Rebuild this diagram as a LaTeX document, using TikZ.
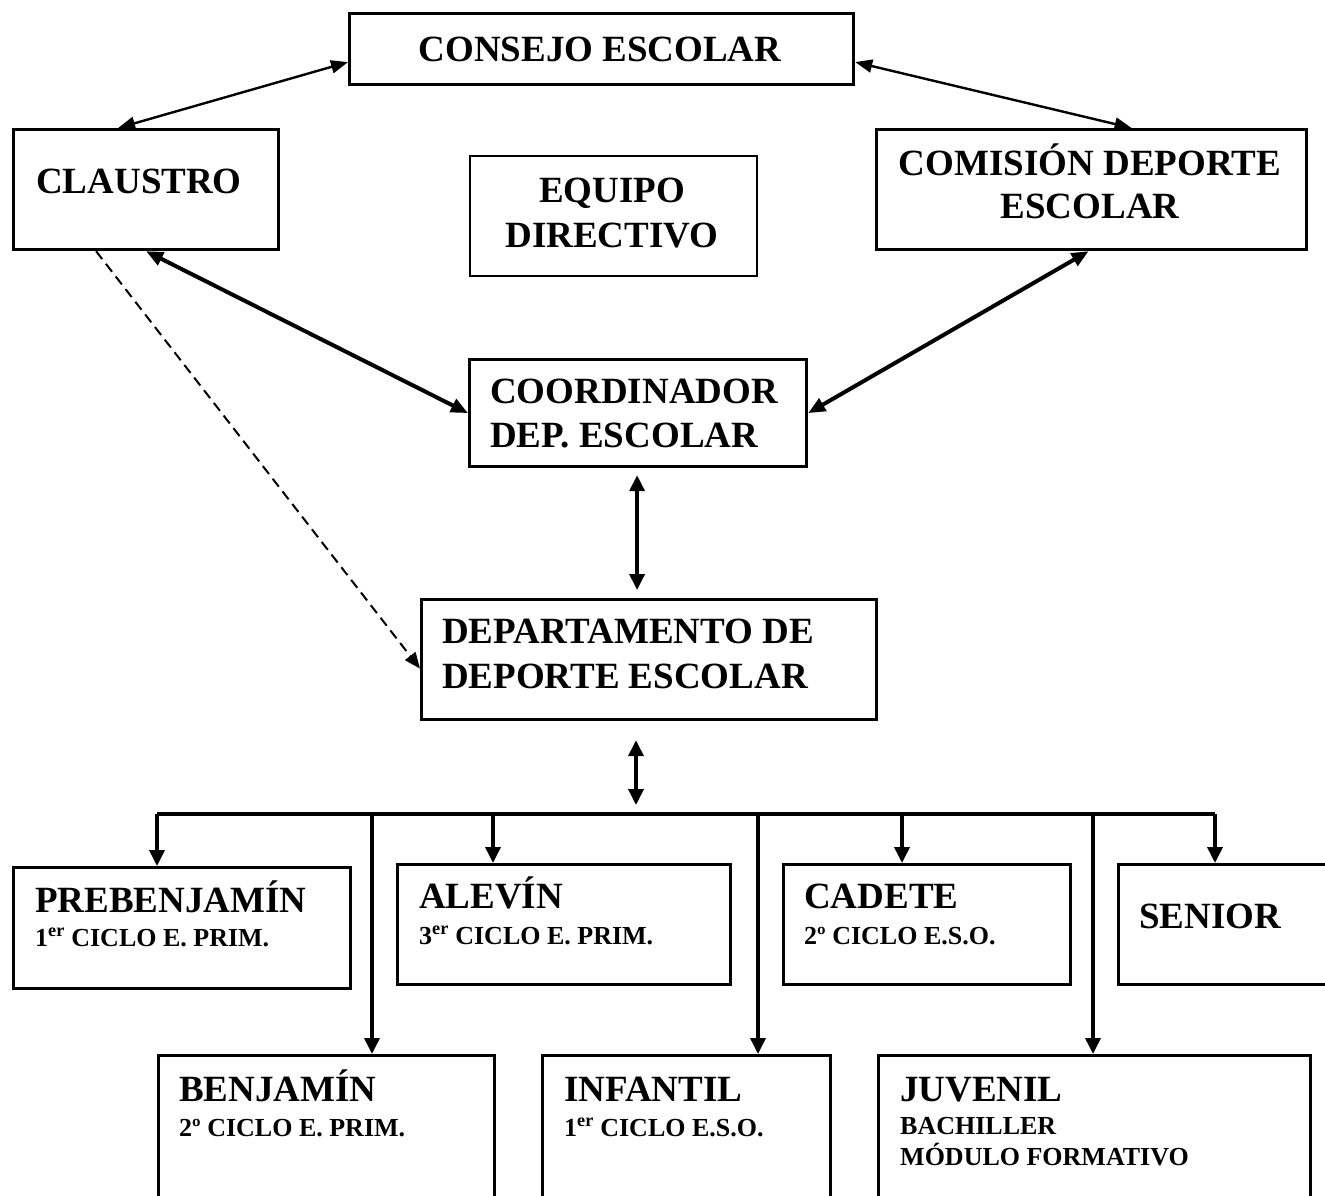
\documentclass[tikz,border=0pt]{standalone}
\usepackage{fontspec}
\setmainfont{Liberation Serif}
\usetikzlibrary{arrows.meta}
\begin{document}
\begin{tikzpicture}[x=1pt,y=-1pt,
  box/.style={draw, line width=3.2pt, inner sep=0pt, anchor=north west},
  thinbox/.style={draw, line width=1.6pt, inner sep=0pt, anchor=north west},
  bigtxt/.style={font=\fontsize{37}{44}\selectfont\bfseries, inner sep=0pt},
  subtxt/.style={font=\fontsize{26}{31}\selectfont\bfseries, inner sep=0pt},
  arrthin/.style={line width=2.4pt, {Triangle[length=17pt,width=13pt]}-{Triangle[length=17pt,width=13pt]}},
  arrthick/.style={line width=4pt, {Triangle[length=17pt,width=14pt]}-{Triangle[length=17pt,width=14pt]}},
  arrvert/.style={line width=3.6pt, {Triangle[length=16pt,width=15pt]}-{Triangle[length=16pt,width=15pt]}},
  drop/.style={line width=3.6pt, -{Triangle[length=16pt,width=15pt]}},
  dashconn/.style={line width=2pt, dash pattern=on 10pt off 6pt, -{Triangle[length=16pt,width=13pt]}}
]
\useasboundingbox (0,0) rectangle (1325,1195);
\fill[white] (0,0) rectangle (1325,1195);
\clip (0,0) rectangle (1325,1195);

% boxes
\node[box, minimum width=504pt, minimum height=71pt] (consejo) at (348,12) {};
\node[box, minimum width=265pt, minimum height=120pt] (claustro) at (12,128) {};
\node[thinbox, minimum width=287pt, minimum height=120pt] (equipo) at (469,155) {};
\node[box, minimum width=430pt, minimum height=120pt] (comision) at (875,128) {};
\node[box, minimum width=337pt, minimum height=107pt] (coord) at (468,358) {};
\node[box, minimum width=455pt, minimum height=120pt] (dep) at (420,598) {};
\node[box, minimum width=337pt, minimum height=121pt] (preb) at (12,866) {};
\node[box, minimum width=333pt, minimum height=120pt] (alevin) at (396,863) {};
\node[box, minimum width=287pt, minimum height=120pt] (cadete) at (782,863) {};
\node[box, minimum width=260pt, minimum height=120pt] (senior) at (1117,863) {};
\node[box, minimum width=336pt, minimum height=200pt] (benj) at (157,1054) {};
\node[box, minimum width=288pt, minimum height=200pt] (infantil) at (541,1054) {};
\node[box, minimum width=432pt, minimum height=200pt] (juvenil) at (877,1054) {};

% texts
\node[bigtxt, anchor=base] (tconsejo) at (600,61) {CONSEJO ESCOLAR};
\node[bigtxt, anchor=base] (tclaustro) at (139,193) {CLAUSTRO};
\node[bigtxt, anchor=base] (tequipo1) at (612,202) {EQUIPO};
\node[bigtxt, anchor=base] (tequipo2) at (612,247) {DIRECTIVO};
\node[bigtxt, anchor=base] (tcomision1) at (1090,175) {COMISIÓN DEPORTE};
\node[bigtxt, anchor=base] (tcomision2) at (1090,218) {ESCOLAR};
\node[bigtxt, anchor=base west] (tcoord1) at (490,403) {COORDINADOR};
\node[bigtxt, anchor=base west] (tcoord2) at (490,447) {DEP. ESCOLAR};
\node[bigtxt, anchor=base west] (tdep1) at (442,643) {DEPARTAMENTO DE};
\node[bigtxt, anchor=base west] (tdep2) at (442,688) {DEPORTE ESCOLAR};
\node[bigtxt, anchor=base west] (tpreb) at (35,912) {PREBENJAMÍN};
\node[subtxt, anchor=base west] (tpreb2) at (35,946) {1\textsuperscript{er} CICLO E. PRIM.};
\node[bigtxt, anchor=base west] (talevin) at (419,908) {ALEVÍN};
\node[subtxt, anchor=base west] (talevin2) at (419,944) {3\textsuperscript{er} CICLO E. PRIM.};
\node[bigtxt, anchor=base west] (tcadete) at (804,908) {CADETE};
\node[subtxt, anchor=base west] (tcadete2) at (804,944) {2º CICLO E.S.O.};
\node[bigtxt, anchor=base west] (tsenior) at (1139,928) {SENIOR};
\node[bigtxt, anchor=base west] (tbenj) at (179,1101) {BENJAMÍN};
\node[subtxt, anchor=base west] (tbenj2) at (179,1136) {2º CICLO E. PRIM.};
\node[bigtxt, anchor=base west] (tinf) at (564,1101) {INFANTIL};
\node[subtxt, anchor=base west] (tinf2) at (564,1136) {1\textsuperscript{er} CICLO E.S.O.};
\node[bigtxt, anchor=base west] (tjuv) at (900,1101) {JUVENIL};
\node[subtxt, anchor=base west] (tjuv2) at (900,1134) {BACHILLER};
\node[subtxt, anchor=base west] (tjuv3) at (900,1165) {MÓDULO FORMATIVO};

% connectors top
\draw[arrthin] ([yshift=-13pt]consejo.west) -- ([xshift=-28pt]claustro.north);
\draw[arrthin] ([yshift=-13pt]consejo.east) -- ([xshift=40pt]comision.north);
\draw[arrthick] (claustro.south) -- (coord.west);
\draw[arrthick] ([xshift=-3pt]comision.south) -- (coord.east);
\draw[dashconn] ([xshift=-50pt]claustro.south) -- ([yshift=-9pt]dep.west);
\draw[arrvert, shorten <=7pt, shorten >=8pt] ([xshift=-1pt]coord.south) -- ([xshift=-1pt]coord.south |- dep.north);

% bus
\coordinate (bus) at (636,814);
\coordinate (busL) at (157,814);
\coordinate (busR) at (1215,814);
\draw[arrvert, shorten <=19pt, shorten >=9pt] (bus |- dep.south) -- (bus);
\draw[line width=3.8pt] (busL) -- (busR);
\coordinate (d1) at (157,814);
\coordinate (d2) at (372,814);
\coordinate (d3) at (493,814);
\coordinate (d4) at (758,814);
\coordinate (d5) at (902,814);
\coordinate (d6) at (1093,814);
\coordinate (d7) at (1215,814);
\draw[drop] (d1) -- (d1 |- preb.north);
\draw[drop] (d2) -- (d2 |- benj.north);
\draw[drop] (d3) -- (d3 |- alevin.north);
\draw[drop] (d4) -- (d4 |- infantil.north);
\draw[drop] (d5) -- (d5 |- cadete.north);
\draw[drop] (d6) -- (d6 |- juvenil.north);
\draw[drop] (d7) -- (d7 |- senior.north);
\end{tikzpicture}
\end{document}
